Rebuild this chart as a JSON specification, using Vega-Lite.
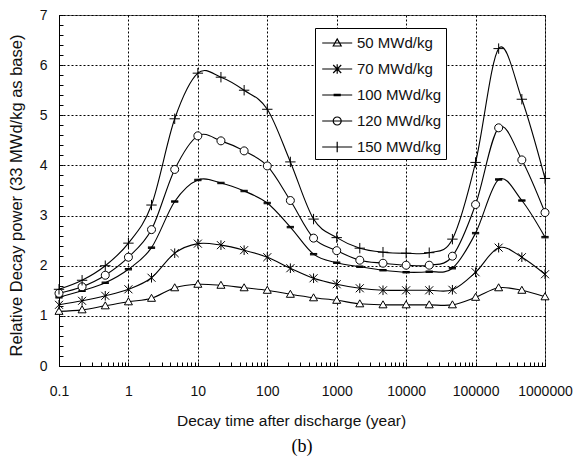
{
  "$schema": "https://vega.github.io/schema/vega-lite/v6.json",
  "width": 486,
  "height": 351,
  "autosize": {"type": "none"},
  "padding": {"left": 59, "top": 15, "right": 32, "bottom": 92},
  "background": "white",
  "config": {"view": {"stroke": "#666", "strokeWidth": 1}, "font": "Liberation Sans"},
  "title": {"text": "(b)", "orient": "bottom", "anchor": "middle", "font": "Liberation Serif", "fontSize": 18, "fontWeight": "normal", "color": "black", "offset": 9},
  "data": {"values": [
    {"t": 0.1, "s": "50 MWd/kg", "v": 1.09}, {"t": 0.215, "s": "50 MWd/kg", "v": 1.12}, {"t": 0.464, "s": "50 MWd/kg", "v": 1.2}, {"t": 1, "s": "50 MWd/kg", "v": 1.28}, {"t": 2.15, "s": "50 MWd/kg", "v": 1.35}, {"t": 4.64, "s": "50 MWd/kg", "v": 1.56}, {"t": 10, "s": "50 MWd/kg", "v": 1.63}, {"t": 21.5, "s": "50 MWd/kg", "v": 1.61}, {"t": 46.4, "s": "50 MWd/kg", "v": 1.56}, {"t": 100, "s": "50 MWd/kg", "v": 1.51}, {"t": 215, "s": "50 MWd/kg", "v": 1.43}, {"t": 464, "s": "50 MWd/kg", "v": 1.36}, {"t": 1000, "s": "50 MWd/kg", "v": 1.31}, {"t": 2150, "s": "50 MWd/kg", "v": 1.24}, {"t": 4640, "s": "50 MWd/kg", "v": 1.22}, {"t": 10000, "s": "50 MWd/kg", "v": 1.22}, {"t": 21500, "s": "50 MWd/kg", "v": 1.22}, {"t": 46400, "s": "50 MWd/kg", "v": 1.22}, {"t": 100000, "s": "50 MWd/kg", "v": 1.37}, {"t": 215000, "s": "50 MWd/kg", "v": 1.56}, {"t": 464000, "s": "50 MWd/kg", "v": 1.51}, {"t": 1000000, "s": "50 MWd/kg", "v": 1.38},
    {"t": 0.1, "s": "70 MWd/kg", "v": 1.22}, {"t": 0.215, "s": "70 MWd/kg", "v": 1.3}, {"t": 0.464, "s": "70 MWd/kg", "v": 1.4}, {"t": 1, "s": "70 MWd/kg", "v": 1.53}, {"t": 2.15, "s": "70 MWd/kg", "v": 1.76}, {"t": 4.64, "s": "70 MWd/kg", "v": 2.25}, {"t": 10, "s": "70 MWd/kg", "v": 2.44}, {"t": 21.5, "s": "70 MWd/kg", "v": 2.41}, {"t": 46.4, "s": "70 MWd/kg", "v": 2.31}, {"t": 100, "s": "70 MWd/kg", "v": 2.17}, {"t": 215, "s": "70 MWd/kg", "v": 1.95}, {"t": 464, "s": "70 MWd/kg", "v": 1.75}, {"t": 1000, "s": "70 MWd/kg", "v": 1.63}, {"t": 2150, "s": "70 MWd/kg", "v": 1.55}, {"t": 4640, "s": "70 MWd/kg", "v": 1.51}, {"t": 10000, "s": "70 MWd/kg", "v": 1.51}, {"t": 21500, "s": "70 MWd/kg", "v": 1.51}, {"t": 46400, "s": "70 MWd/kg", "v": 1.52}, {"t": 100000, "s": "70 MWd/kg", "v": 1.87}, {"t": 215000, "s": "70 MWd/kg", "v": 2.36}, {"t": 464000, "s": "70 MWd/kg", "v": 2.17}, {"t": 1000000, "s": "70 MWd/kg", "v": 1.83},
    {"t": 0.1, "s": "100 MWd/kg", "v": 1.37}, {"t": 0.215, "s": "100 MWd/kg", "v": 1.5}, {"t": 0.464, "s": "100 MWd/kg", "v": 1.66}, {"t": 1, "s": "100 MWd/kg", "v": 1.93}, {"t": 2.15, "s": "100 MWd/kg", "v": 2.36}, {"t": 4.64, "s": "100 MWd/kg", "v": 3.28}, {"t": 10, "s": "100 MWd/kg", "v": 3.71}, {"t": 21.5, "s": "100 MWd/kg", "v": 3.65}, {"t": 46.4, "s": "100 MWd/kg", "v": 3.49}, {"t": 100, "s": "100 MWd/kg", "v": 3.25}, {"t": 215, "s": "100 MWd/kg", "v": 2.77}, {"t": 464, "s": "100 MWd/kg", "v": 2.23}, {"t": 1000, "s": "100 MWd/kg", "v": 2.06}, {"t": 2150, "s": "100 MWd/kg", "v": 1.98}, {"t": 4640, "s": "100 MWd/kg", "v": 1.91}, {"t": 10000, "s": "100 MWd/kg", "v": 1.87}, {"t": 21500, "s": "100 MWd/kg", "v": 1.88}, {"t": 46400, "s": "100 MWd/kg", "v": 1.95}, {"t": 100000, "s": "100 MWd/kg", "v": 2.65}, {"t": 215000, "s": "100 MWd/kg", "v": 3.72}, {"t": 464000, "s": "100 MWd/kg", "v": 3.3}, {"t": 1000000, "s": "100 MWd/kg", "v": 2.57},
    {"t": 0.1, "s": "120 MWd/kg", "v": 1.45}, {"t": 0.215, "s": "120 MWd/kg", "v": 1.58}, {"t": 0.464, "s": "120 MWd/kg", "v": 1.81}, {"t": 1, "s": "120 MWd/kg", "v": 2.17}, {"t": 2.15, "s": "120 MWd/kg", "v": 2.72}, {"t": 4.64, "s": "120 MWd/kg", "v": 3.92}, {"t": 10, "s": "120 MWd/kg", "v": 4.59}, {"t": 21.5, "s": "120 MWd/kg", "v": 4.49}, {"t": 46.4, "s": "120 MWd/kg", "v": 4.29}, {"t": 100, "s": "120 MWd/kg", "v": 3.99}, {"t": 215, "s": "120 MWd/kg", "v": 3.3}, {"t": 464, "s": "120 MWd/kg", "v": 2.55}, {"t": 1000, "s": "120 MWd/kg", "v": 2.3}, {"t": 2150, "s": "120 MWd/kg", "v": 2.11}, {"t": 4640, "s": "120 MWd/kg", "v": 2.05}, {"t": 10000, "s": "120 MWd/kg", "v": 2.01}, {"t": 21500, "s": "120 MWd/kg", "v": 2.01}, {"t": 46400, "s": "120 MWd/kg", "v": 2.19}, {"t": 100000, "s": "120 MWd/kg", "v": 3.22}, {"t": 215000, "s": "120 MWd/kg", "v": 4.75}, {"t": 464000, "s": "120 MWd/kg", "v": 4.11}, {"t": 1000000, "s": "120 MWd/kg", "v": 3.06},
    {"t": 0.1, "s": "150 MWd/kg", "v": 1.53}, {"t": 0.215, "s": "150 MWd/kg", "v": 1.71}, {"t": 0.464, "s": "150 MWd/kg", "v": 2.0}, {"t": 1, "s": "150 MWd/kg", "v": 2.45}, {"t": 2.15, "s": "150 MWd/kg", "v": 3.21}, {"t": 4.64, "s": "150 MWd/kg", "v": 4.93}, {"t": 10, "s": "150 MWd/kg", "v": 5.84}, {"t": 21.5, "s": "150 MWd/kg", "v": 5.76}, {"t": 46.4, "s": "150 MWd/kg", "v": 5.5}, {"t": 100, "s": "150 MWd/kg", "v": 5.12}, {"t": 215, "s": "150 MWd/kg", "v": 4.07}, {"t": 464, "s": "150 MWd/kg", "v": 2.93}, {"t": 1000, "s": "150 MWd/kg", "v": 2.56}, {"t": 2150, "s": "150 MWd/kg", "v": 2.35}, {"t": 4640, "s": "150 MWd/kg", "v": 2.27}, {"t": 10000, "s": "150 MWd/kg", "v": 2.25}, {"t": 21500, "s": "150 MWd/kg", "v": 2.26}, {"t": 46400, "s": "150 MWd/kg", "v": 2.53}, {"t": 100000, "s": "150 MWd/kg", "v": 4.06}, {"t": 215000, "s": "150 MWd/kg", "v": 6.33}, {"t": 464000, "s": "150 MWd/kg", "v": 5.32}, {"t": 1000000, "s": "150 MWd/kg", "v": 3.74}
  ]},
  "encoding": {
    "x": {"field": "t", "type": "quantitative",
      "scale": {"type": "log", "domain": [0.1, 1000000], "nice": false},
      "axis": {"orient": "bottom",
        "values": [0.1, 0.2, 0.3, 0.4, 0.5, 0.6, 0.7, 0.8, 0.9, 1, 2, 3, 4, 5, 6, 7, 8, 9, 10, 20, 30, 40, 50, 60, 70, 80, 90, 100, 200, 300, 400, 500, 600, 700, 800, 900, 1000, 2000, 3000, 4000, 5000, 6000, 7000, 8000, 9000, 10000, 20000, 30000, 40000, 50000, 60000, 70000, 80000, 90000, 100000, 200000, 300000, 400000, 500000, 600000, 700000, 800000, 900000, 1000000],
        "ticks": true, "tickSize": -4, "tickColor": "black", "tickWidth": 1,
        "grid": true, "gridColor": "#000", "gridDash": [2, 2], "gridWidth": 1,
        "gridOpacity": {"condition": {"test": "abs(log(datum.value)/LN10 - round(log(datum.value)/LN10)) < 0.001", "value": 1}, "value": 0},
        "domain": true, "domainColor": "black",
        "labelExpr": "abs(log(datum.value)/LN10 - round(log(datum.value)/LN10)) < 0.001 ? (datum.value < 1 ? '0.1' : format(datum.value, 'd')) : ''",
        "labelFont": "Liberation Sans", "labelFontSize": 14, "labelColor": "#111", "labelPadding": 22,
        "labelFlush": false, "labelOverlap": false, "labelBound": false,
        "title": "Decay time after discharge (year)", "titleFont": "Liberation Sans", "titleFontSize": 15.5,
        "titleFontWeight": "normal", "titleColor": "#111", "titleBaseline": "alphabetic", "titleY": 59, "titleX": 232, "titleAnchor": "middle", "titleAlign": "center"}},
    "y": {"field": "v", "type": "quantitative",
      "scale": {"domain": [0, 7], "nice": false, "zero": false},
      "axis": {"orient": "left",
        "values": [0, 0.2, 0.4, 0.6, 0.8, 1, 1.2, 1.4, 1.6, 1.8, 2, 2.2, 2.4, 2.6, 2.8, 3, 3.2, 3.4, 3.6, 3.8, 4, 4.2, 4.4, 4.6, 4.8, 5, 5.2, 5.4, 5.6, 5.8, 6, 6.2, 6.4, 6.6, 6.8, 7],
        "ticks": true, "tickSize": -4, "tickColor": "black", "tickWidth": 1,
        "grid": true, "gridColor": "#000", "gridDash": [2, 2], "gridWidth": 1,
        "gridOpacity": {"condition": {"test": "abs(datum.value - round(datum.value)) < 0.001", "value": 1}, "value": 0},
        "domain": true, "domainColor": "black",
        "labelExpr": "abs(datum.value - round(datum.value)) < 0.001 ? format(datum.value, 'd') : ''",
        "labelFont": "Liberation Sans", "labelFontSize": 14, "labelColor": "#111", "labelPadding": 16,
        "labelOverlap": false, "labelBound": false, "labelFlush": false,
        "title": "Relative Decay power (33 MWd/kg as base)", "titleFont": "Liberation Sans", "titleFontSize": 16.5,
        "titleFontWeight": "normal", "titleColor": "#111", "titleAngle": -90, "titleBaseline": "alphabetic",
        "titleX": -38, "titleY": 180, "titleAlign": "center", "titleAnchor": "middle"}}
  },
  "layer": [
    {
      "mark": {"type": "line", "interpolate": "cardinal", "color": "black", "strokeWidth": 1.1},
      "encoding": {"detail": {"field": "s", "type": "nominal"}}
    },
    {
      "mark": {"type": "point", "filled": true, "fill": "white", "stroke": "black", "strokeWidth": 1, "size": 64, "opacity": 1},
      "encoding": {
        "shape": {"field": "s", "type": "nominal",
          "scale": {"domain": ["50 MWd/kg", "70 MWd/kg", "100 MWd/kg", "120 MWd/kg", "150 MWd/kg"],
            "range": ["M-1,0.75L0,-1L1,0.75Z", "M-1,-1L1,1M-1,1L1,-1M0,-1.2V1.2", "M-0.9,-0.18H0.9M-0.9,0H0.9M-0.9,0.18H0.9", "M1,0A1,1 0 1,1 -1,0A1,1 0 1,1 1,0Z", "M-1.3,0H1.3M0,-1.3V1.3"]},
          "legend": null}
      }
    },
    {
      "mark": {"type": "point", "filled": false, "stroke": "black", "strokeWidth": 1.2, "size": 400, "opacity": 0},
      "encoding": {
        "shape": {"field": "s", "type": "nominal",
          "scale": {"domain": ["50 MWd/kg", "70 MWd/kg", "100 MWd/kg", "120 MWd/kg", "150 MWd/kg"],
            "range": ["M-1.5,0H1.5M-0.4,0.3L0,-0.4L0.4,0.3Z", "M-1.5,0H1.5M-0.4,-0.4L0.4,0.4M-0.4,0.4L0.4,-0.4M0,-0.48V0.48", "M-1.5,0H1.5M-0.36,-0.07H0.36M-0.36,0.07H0.36", "M-1.5,0H1.5M0.4,0A0.4,0.4 0 1,1 -0.4,0A0.4,0.4 0 1,1 0.4,0Z", "M-1.5,0H1.5M-0.52,0H0.52M0,-0.52V0.52"]},
          "legend": {"orient": "none", "legendX": 256, "legendY": 13, "title": null,
            "labelFont": "Liberation Sans", "labelFontSize": 15, "labelColor": "#111", "labelLimit": 200,
            "strokeColor": "black", "fillColor": "white", "padding": 4, "rowPadding": 7,
            "symbolSize": 400, "symbolOffset": 7.2, "labelOffset": 8.7,
            "symbolFillColor": "white", "symbolStrokeColor": "black", "symbolStrokeWidth": 1.2, "symbolOpacity": 1,
            "values": ["50 MWd/kg", "70 MWd/kg", "100 MWd/kg", "120 MWd/kg", "150 MWd/kg"]}}
      }
    }
  ],
  "resolve": {"scale": {"shape": "independent"}}
}
